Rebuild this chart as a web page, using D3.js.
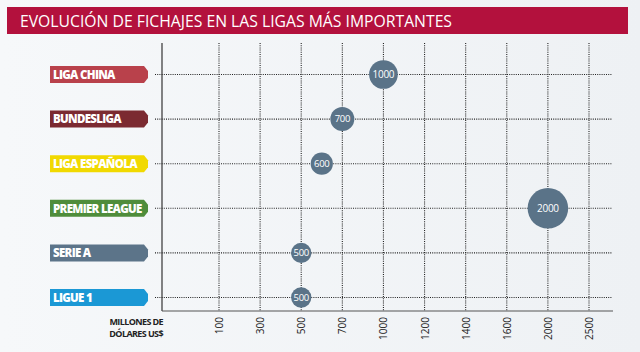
<!DOCTYPE html>
<html><head><meta charset="utf-8">
<script src="https://cdn.jsdelivr.net/npm/d3@7"></script>
<style>html,body{margin:0;padding:0;background:#f3f5f7;}svg{display:block;}</style>
</head><body>
<svg id="c" width="640" height="352"></svg>
<script>
const title = "EVOLUCIÓN DE FICHAJES EN LAS LIGAS MÁS IMPORTANTES";
const leagues = ["LIGA CHINA","BUNDESLIGA","LIGA ESPAÑOLA","PREMIER LEAGUE","SERIE A","LIGUE 1"];
const values = [1000,700,600,2000,500,500];
const tagColors = ["#b9414b","#7b2a31","#f1d900","#4f8d3b","#5c7489","#1b98d5"];
const tickValues = [100,300,500,700,1000,1200,1400,1600,2000,2500];
const axisTitle = ["MILLONES DE","DÓLARES US$"];

const svg = d3.select("#c");
const defs = svg.append("defs");
const grad = defs.append("linearGradient").attr("id","bg").attr("x1",0).attr("x2",1).attr("y1",0).attr("y2",0);
grad.append("stop").attr("offset","0%").attr("stop-color","#f6f8fa");
grad.append("stop").attr("offset","100%").attr("stop-color","#eef1f4");
svg.append("rect").attr("width",640).attr("height",352).attr("fill","url(#bg)");

// title bar
svg.append("rect").attr("x",7).attr("y",7).attr("width",621).attr("height",27).attr("fill","#b3113d");
svg.append("text").attr("x",20).attr("y",27).attr("fill","#fff")
  .attr("font-family","'Open Sans', sans-serif").attr("font-size",16)
  .attr("textLength",432).attr("lengthAdjust","spacingAndGlyphs").text(title);

const idx = d3.scalePoint().domain(d3.range(tickValues.length)).range([219,589]);
const x = d3.scaleLinear().domain(tickValues).range(tickValues.map((d,i)=>idx(i)));
const y = d3.scalePoint().domain(leagues).range([74.5,297.5]);
const r = d3.scaleSqrt().domain([0,2000]).range([0,20.3]);

const yTop = 43, yBottom = 311;
const grid = svg.append("g").attr("stroke","#222").attr("stroke-width",1.1).attr("stroke-dasharray","1,1.2");
grid.selectAll(".v").data(tickValues).join("line")
  .attr("x1",d=>x(d)).attr("x2",d=>x(d)).attr("y1",yTop).attr("y2",yBottom);
grid.selectAll(".h").data(leagues).join("line")
  .attr("x1",155).attr("x2",612).attr("y1",d=>y(d)).attr("y2",d=>y(d));

// axes lines
svg.append("line").attr("x1",162).attr("x2",162).attr("y1",yTop).attr("y2",yBottom).attr("stroke","#333").attr("stroke-width",1.2);

const axis = d3.axisBottom(x).tickValues(tickValues).tickSize(0).tickPadding(0).tickFormat(d=>d);
const ag = svg.append("g").attr("transform",`translate(0,${yBottom})`).call(axis);
ag.select(".domain").remove();
ag.append("line").attr("x1",162).attr("x2",613).attr("stroke","#555").attr("stroke-width",1.2);
ag.selectAll(".tick text")
  .attr("transform","rotate(-90)").attr("x",-6).attr("y",0).attr("dy","0.35em")
  .attr("text-anchor","end").attr("fill","#222")
  .attr("font-family","'Open Sans', sans-serif").attr("font-size",10).attr("font-weight",400);

// axis title
svg.append("g").selectAll("text").data(axisTitle).join("text")
  .attr("x",163).attr("y",(d,i)=>325+i*12).attr("text-anchor","end")
  .attr("font-family","'Open Sans', sans-serif").attr("font-weight",700).attr("font-size",9)
  .attr("letter-spacing",-0.6).attr("fill","#222").text(d=>d);

// tags
const tags = svg.append("g").selectAll("g").data(leagues).join("g")
  .attr("transform",d=>`translate(0,${y(d)})`);
tags.append("path").attr("d","M50,-8.5H144L148,-3.5L148,3.5L144,8.5H50Z")
  .attr("fill",(d,i)=>tagColors[i]);
tags.append("text").attr("x",53).attr("y",0).attr("dy","0.37em").attr("fill","#fff")
  .attr("font-family","'Open Sans', sans-serif").attr("font-weight",800).attr("font-size",11.5)
  .attr("letter-spacing",-0.7).text(d=>d);

// bubbles
const b = svg.append("g").selectAll("g").data(leagues).join("g")
  .attr("transform",(d,i)=>`translate(${x(values[i])},${y(d)})`);
b.append("circle").attr("r",(d,i)=>r(values[i])).attr("fill","#5a7388");
b.append("text").attr("text-anchor","middle").attr("dy","0.35em").attr("fill","#fff")
  .attr("font-family","'Open Sans', sans-serif").attr("font-size",(d,i)=>values[i]>=1000?10:9.5)
  .attr("letter-spacing",-0.3).text((d,i)=>values[i]);
</script>
</body></html>
